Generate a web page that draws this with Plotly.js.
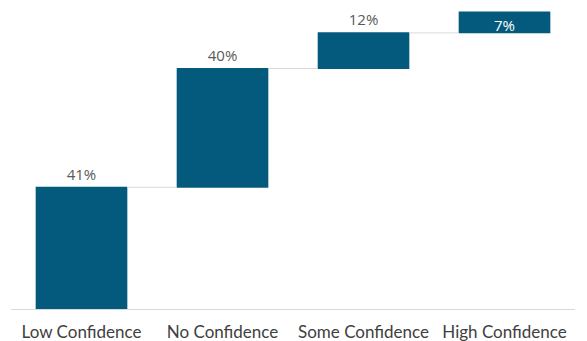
<!DOCTYPE html>
<html>
<head>
<meta charset="utf-8">
<script src="https://cdn.plot.ly/plotly-3.0.1.min.js"></script>
<style>html,body{margin:0;padding:0;background:#fff;}#chart{width:587px;height:341px;}</style>
</head>
<body>
<div id="chart"></div>
<script>
const categories = ["Low Confidence", "No Confidence", "Some Confidence", "High Confidence"];
const values = [41, 40, 12, 7];
const labels = ["41%", "40%", "12%", "7%"];
const labelPositions = ["outside", "outside", "outside", "inside"];

const trace = {
  type: "waterfall",
  x: categories,
  y: values,
  measure: values.map(() => "relative"),
  text: labels,
  textposition: labelPositions,
  textinfo: "text",
  textfont: {family: "Open Sans, sans-serif", size: 15},
  outsidetextfont: {family: "Open Sans, sans-serif", size: 15, color: "#595959"},
  insidetextfont: {family: "Open Sans, sans-serif", size: 15, color: "#ffffff"},
  constraintext: "none",
  cliponaxis: false,
  increasing: {marker: {color: "#035a7c"}},
  connector: {mode: "between", line: {color: "#d9d9d9", width: 1}},
  hoverinfo: "x+text"
};

const layout = {
  width: 587,
  height: 341,
  margin: {l: 11, r: 12, t: 10, b: 32},
  paper_bgcolor: "#ffffff",
  plot_bgcolor: "#ffffff",
  showlegend: false,
  waterfallgap: 0.35,
  xaxis: {
    showline: true,
    linecolor: "#d9d9d9",
    linewidth: 1,
    ticks: "",
    ticklabelstandoff: 8,
    showgrid: false,
    zeroline: false,
    tickfont: {family: "Lato, sans-serif", size: 17, color: "#404040"}
  },
  yaxis: {
    visible: false,
    range: [0, 100.7],
    showgrid: false,
    zeroline: false
  }
};

Plotly.newPlot("chart", [trace], layout, {displayModeBar: false, staticPlot: true});
</script>
</body>
</html>
